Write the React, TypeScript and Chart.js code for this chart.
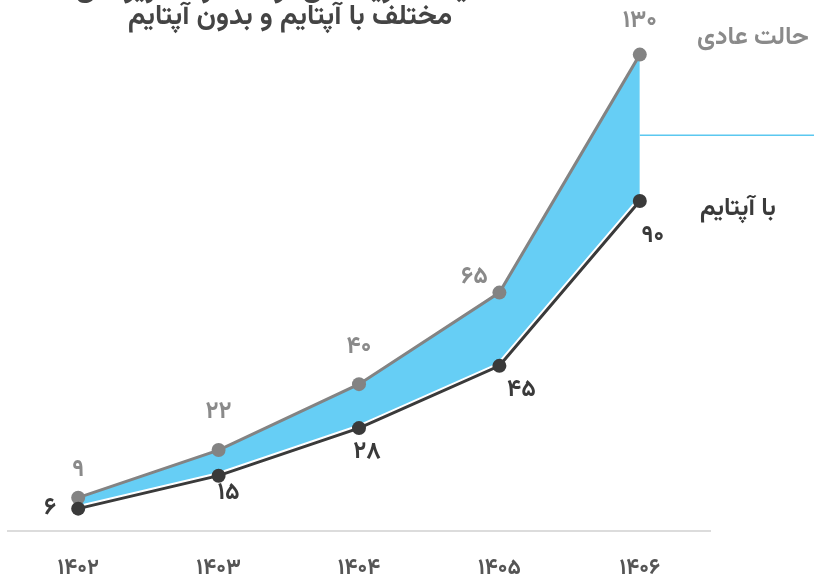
import React, { useEffect, useRef } from "react";
import { Chart, registerables } from "chart.js";

Chart.register(...registerables);

const years = ["۱۴۰۲", "۱۴۰۳", "۱۴۰۴", "۱۴۰۵", "۱۴۰۶"];
const normalValues = [9, 22, 40, 65, 130];
const uptimeValues = [6, 15, 28, 45, 90];
const normalLabels = ["۹", "۲۲", "۴۰", "۶۵", "۱۳۰"];
const uptimeLabels = ["۶", "۱۵", "۲۸", "۴۵", "۹۰"];
const normalName = "حالت عادی";
const uptimeName = "با آپتایم";
const titleLines = ["مقایسه هزینه‌های توقف در سناریوهای", "مختلف با آپتایم و بدون آپتایم"];
const leaderValue = 108;

const FONT = 'Vazirmatn, "DejaVu Sans", sans-serif';
const GRAY = "#838383";
const DARK = "#3a3a3a";
const FILL = "#66cef5";

// label offsets (style)
const normalOffsets = [[0, -25], [0, -36], [0, -35], [-25, -13], [0, -31]];
const uptimeOffsets = [[-28, 2], [10, 20], [8, 26], [22, 26], [13, 37]];

const overlay = {
  id: "overlay",
  afterDatasetsDraw(chart: any) {
    const ctx = chart.ctx;
    const metaN = chart.getDatasetMeta(0);
    const metaU = chart.getDatasetMeta(1);
    const y = chart.scales.y;
    ctx.save();
    // leader line
    const last = metaN.data[metaN.data.length - 1];
    const ly = y.getPixelForValue(leaderValue);
    ctx.strokeStyle = "#5bc8f0";
    ctx.lineWidth = 1.5;
    ctx.beginPath();
    ctx.moveTo(last.x, ly);
    ctx.lineTo(chart.width, ly);
    ctx.stroke();

    ctx.textAlign = "center";
    ctx.textBaseline = "middle";
    ctx.font = `bold 24px ${FONT}`;
    metaN.data.forEach((p: any, i: number) => {
      ctx.fillStyle = "#8a8a8a";
      ctx.fillText(normalLabels[i], p.x + normalOffsets[i][0], p.y + normalOffsets[i][1]);
    });
    metaU.data.forEach((p: any, i: number) => {
      ctx.fillStyle = DARK;
      ctx.fillText(uptimeLabels[i], p.x + uptimeOffsets[i][0], p.y + uptimeOffsets[i][1]);
    });

    // series names
    ctx.direction = "rtl";
    ctx.textAlign = "left";
    ctx.font = `bold 25px ${FONT}`;
    ctx.fillStyle = "#8a8a8a";
    ctx.fillText(normalName, 697, 40);
    ctx.fillStyle = DARK;
    ctx.font = `bold 25px ${FONT}`;
    ctx.fillText(uptimeName, 700, 211);

    // title
    ctx.textAlign = "center";
    ctx.font = `bold 28px ${FONT}`;
    ctx.fillStyle = "#444";
    ctx.fillText(titleLines[0], 290, -8);
    ctx.fillText(titleLines[1], 290, 20);
    ctx.restore();
  },
};

export default function App() {
  const ref = useRef<HTMLCanvasElement>(null);
  useEffect(() => {
    if (!ref.current) return;
    const chart = new Chart(ref.current, {
      type: "line",
      data: {
        labels: years,
        datasets: [
          {
            label: normalName,
            data: normalValues,
            borderColor: GRAY,
            backgroundColor: FILL,
            borderWidth: 3,
            pointRadius: 7,
            pointHoverRadius: 7,
            pointBackgroundColor: GRAY,
            pointBorderWidth: 0,
            fill: { target: 1 },
            tension: 0,
            order: 3,
          },
          {
            label: uptimeName,
            data: uptimeValues,
            borderColor: DARK,
            borderWidth: 3,
            pointRadius: 7,
            pointHoverRadius: 7,
            pointBackgroundColor: DARK,
            pointBorderWidth: 0,
            fill: false,
            tension: 0,
            order: 1,
          },
          {
            label: "halo",
            data: uptimeValues,
            borderColor: "#ffffff",
            borderWidth: 7,
            pointRadius: 0,
            fill: false,
            tension: 0,
            order: 2,
          },
        ],
      },
      options: {
        responsive: false,
        animation: false,
        layout: { padding: { left: 8, right: 104, top: 18, bottom: -36 } },
        plugins: {
          legend: { display: false },
          tooltip: { enabled: false },
          title: { display: false },
        },
        scales: {
          x: {
            offset: true,
            grid: { display: false, drawTicks: false },
            border: { display: true, color: "#dcdcdc", width: 2 },
            ticks: {
              padding: 27,
              color: "#555",
              font: { family: FONT, size: 22, weight: "bold" },
            },
          },
          y: {
            display: false,
            min: 0,
            max: 140,
          },
        },
      },
      plugins: [overlay],
    });
    return () => chart.destroy();
  }, []);
  return (
    <div style={{ position: "absolute", left: 0, top: 0, width: 814, height: 575 }}>
      <canvas ref={ref} width={814} height={575} />
    </div>
  );
}
